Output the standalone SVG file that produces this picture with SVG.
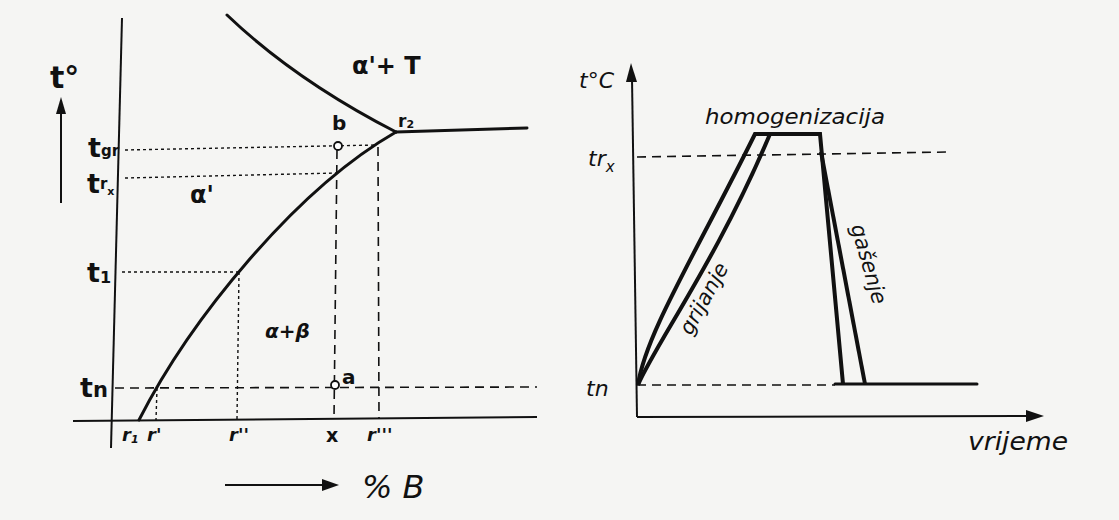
<svg xmlns="http://www.w3.org/2000/svg" width="1119" height="520" viewBox="0 0 1119 520">
<defs>
<style>
.ln{fill:none;stroke:#111;stroke-width:2}
.hv{fill:none;stroke:#111;stroke-width:3;stroke-linecap:round}
.hw{fill:none;stroke:#111;stroke-width:4;stroke-linejoin:miter}
.dot{fill:none;stroke:#111;stroke-width:1.4;stroke-dasharray:3 3}
.dsh{fill:none;stroke:#111;stroke-width:1.6;stroke-dasharray:9 6}
.lb{font-family:"DejaVu Sans","Liberation Sans",sans-serif;font-weight:bold;fill:#111}
.it{font-family:"DejaVu Sans","Liberation Sans",sans-serif;font-style:italic;fill:#111}
.pt{fill:#fff;stroke:#111;stroke-width:1.8}
</style>
</defs>
<rect width="1119" height="520" fill="#f5f5f3"/>

<g id="left-diagram">
<line class="ln" x1="122" y1="18" x2="111" y2="448"/>
<line class="ln" x1="73" y1="421" x2="537" y2="417"/>
<path class="hv" d="M227,15 Q295,80 396,132"/>
<line class="hv" x1="396" y1="132" x2="527" y2="128"/>
<path class="hv" d="M139,420 C190,320 295,190 396,132"/>

<line class="dot" x1="125" y1="150" x2="377" y2="145"/>
<line class="dot" x1="125" y1="178" x2="337" y2="173"/>
<line class="dot" x1="122" y1="272" x2="240" y2="272"/>
<line class="dot" x1="239" y1="272" x2="237" y2="419"/>
<line class="dot" x1="157" y1="388" x2="156" y2="420"/>
<line class="dsh" x1="115" y1="388" x2="537" y2="387"/>
<line class="dsh" x1="337" y1="150" x2="334" y2="419"/>
<line class="dsh" x1="378" y1="147" x2="379" y2="418"/>
<circle class="pt" cx="338" cy="146" r="4"/>
<circle class="pt" cx="335" cy="385" r="4"/>

<line x1="61" y1="203" x2="61" y2="110" stroke="#111" stroke-width="2"/>
<polygon points="61,97 56,114 66,114" fill="#111"/>
<text class="lb" x="50" y="88" font-size="30">t°</text>
<text class="lb" x="88" y="157" font-size="27">t<tspan font-size="15" dy="-1">gr</tspan></text>
<text class="lb" x="87" y="193" font-size="27">t<tspan font-size="15" dy="-4">r</tspan><tspan font-size="11" dy="6">x</tspan></text>
<text class="lb" x="87" y="282" font-size="27">t<tspan font-size="16" dy="1">1</tspan></text>
<text class="lb" x="80" y="397" font-size="27">t<tspan font-size="21" dy="0">n</tspan></text>
<text class="lb" x="352" y="74" font-size="24">α'+ T</text>
<text class="lb" x="190" y="203" font-size="24">α'</text>
<text class="lb" x="265" y="338" font-size="20" font-style="italic">α+β</text>
<text class="lb" x="332" y="130" font-size="20">b</text>
<text class="lb" x="342" y="384" font-size="20">a</text>
<text class="lb" x="398" y="127" font-size="17">r<tspan font-size="11" dy="1">2</tspan></text>
<text class="lb" x="122" y="441" font-size="18" font-style="italic">r<tspan font-size="11" dy="2">1</tspan></text>
<text class="lb" x="147" y="441" font-size="18" font-style="italic">r'</text>
<text class="lb" x="229" y="441" font-size="18" font-style="italic">r''</text>
<text class="lb" x="326" y="442" font-size="19">x</text>
<text class="lb" x="367" y="441" font-size="18" font-style="italic">r'''</text>
<line x1="225" y1="485" x2="325" y2="485" stroke="#111" stroke-width="2"/>
<polygon points="339,485 322,479 322,491" fill="#111"/>
<text class="it" x="362" y="498" font-size="32">% B</text>
</g>

<g id="right-diagram">
<line class="ln" x1="637" y1="417" x2="632" y2="78"/>
<polygon points="631,63 626,82 637,82" fill="#111"/>
<line class="ln" x1="637" y1="417" x2="1030" y2="416"/>
<polygon points="1044,416 1026,410 1026,422" fill="#111"/>
<line class="dsh" x1="637" y1="157" x2="948" y2="152"/>
<line class="dsh" x1="637" y1="385" x2="835" y2="385"/>
<line class="hv" x1="835" y1="384" x2="977" y2="384"/>
<path class="hw" d="M638,385 C645,335 695,255 755,134 L820,134 L843,384"/>
<path class="hw" d="M638,385 C655,345 718,258 770,134"/>
<line class="hw" x1="821" y1="152" x2="865" y2="384"/>

<text class="it" x="579" y="88" font-size="22">t°C</text>
<text class="it" x="588" y="166" font-size="22">tr<tspan font-size="15" dy="6">x</tspan></text>
<text class="it" x="586" y="396" font-size="22">tn</text>
<text class="it" x="705" y="124" font-size="22" textLength="180" lengthAdjust="spacingAndGlyphs">homogenizacija</text>
<text class="it" x="0" y="0" font-size="21" text-anchor="middle" transform="translate(710,302) rotate(-61)">grijanje</text>
<text class="it" x="0" y="0" font-size="21" text-anchor="middle" transform="translate(862,266) rotate(74)">gašenje</text>
<text class="it" x="968" y="450" font-size="25" textLength="100" lengthAdjust="spacingAndGlyphs">vrijeme</text>
</g>
</svg>
